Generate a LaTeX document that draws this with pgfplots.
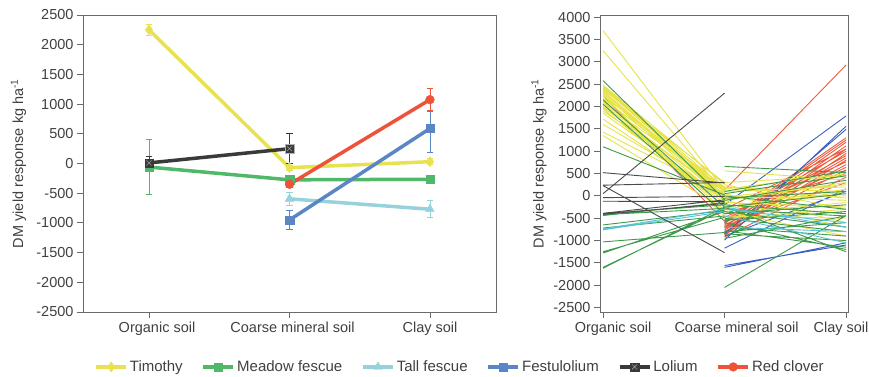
\documentclass[border=0pt]{standalone}
\usepackage{pgfplots}
\pgfplotsset{compat=1.18}
\usepackage{fontspec}
\setmainfont{Liberation Sans}
\setsansfont{Liberation Sans}

\definecolor{timothy}{HTML}{E8E150}
\definecolor{meadow}{HTML}{50B868}
\definecolor{tall}{HTML}{96D2DC}
\definecolor{festu}{HTML}{5B86C6}
\definecolor{lolium}{HTML}{3A3A3A}
\definecolor{redclover}{HTML}{EE5238}
\definecolor{ryel}{HTML}{E8E34A}
\definecolor{rgreen}{HTML}{3E9A4A}
\definecolor{rlblue}{HTML}{55C3D6}
\definecolor{rblue}{HTML}{3A5FC0}
\definecolor{rblack}{HTML}{4A4A4A}
\definecolor{rred}{HTML}{EE5A3E}
\definecolor{axisgray}{HTML}{6A6A6A}
\definecolor{textgray}{HTML}{404040}

\pgfdeclareplotmark{sqx}{%
  \pgfpathrectangle{\pgfqpoint{-\pgfplotmarksize}{-\pgfplotmarksize}}{\pgfqpoint{2\pgfplotmarksize}{2\pgfplotmarksize}}%
  \pgfusepathqfillstroke
  \pgfsetstrokecolor{gray!60}%
  \pgfpathmoveto{\pgfqpoint{-0.6\pgfplotmarksize}{-0.6\pgfplotmarksize}}%
  \pgfpathlineto{\pgfqpoint{0.6\pgfplotmarksize}{0.6\pgfplotmarksize}}%
  \pgfpathmoveto{\pgfqpoint{-0.6\pgfplotmarksize}{0.6\pgfplotmarksize}}%
  \pgfpathlineto{\pgfqpoint{0.6\pgfplotmarksize}{-0.6\pgfplotmarksize}}%
  \pgfusepathqstroke
}

\pgfplotsset{
  myaxis/.style={
    scale only axis, anchor=south west,
    axis line style={draw=axisgray, line width=0.9pt},
    tick align=outside, tick pos=left, major tick length=6pt,
    major tick style={draw=axisgray, line width=0.9pt},
    tick label style={font=\fontsize{14.5}{17}\selectfont, text=textgray},
    ylabel style={font=\fontsize{14.5}{17}\selectfont, text=textgray},
    /pgf/number format/assume math mode=true,
    /pgf/number format/1000 sep={},
    scaled y ticks=false,
  },
  ebar/.style={error bars/.cd, y dir=both, y explicit,
    error bar style={line width=0.8pt, #1},
    error mark options={rotate=90, mark size=3.2pt, line width=0.8pt, #1}},
}

\begin{document}
\begin{tikzpicture}
\useasboundingbox (0pt,0pt) rectangle (869pt,376pt);

% ---------------- left panel ----------------
\begin{axis}[myaxis, at={(83pt,64pt)}, width=413pt, height=297pt,
  xmin=-0.47, xmax=2.47, ymin=-2500, ymax=2500,
  ytick={-2500,-2000,...,2500}, xtick={0,1,2},
  xticklabels={\hspace*{16pt}Organic soil, \hspace*{6pt}Coarse mineral soil, Clay soil},
  ylabel={DM yield response kg ha\textsuperscript{-1}},
  ylabel style={at={(axis description cs:-0.156,0.5)}, anchor=center},
  legend columns=6,
  legend style={at={(axis description cs:0.913,-0.185)}, anchor=center, draw=none, fill=none,
    font=\fontsize{15}{17}\selectfont, text=textgray,
    /tikz/every even column/.append style={column sep=17pt}},
  legend image code/.code={\draw[#1, mark repeat=2, mark phase=2] plot coordinates {(0pt,0pt) (15pt,0pt) (30pt,0pt)};},
  every axis plot/.append style={line width=3.5pt, mark options={solid, line width=0.4pt}},
]
\addplot[timothy, mark=diamond*, mark size=5pt, ebar=timothy]
  coordinates {(0,2250) +- (0,85) (1,-70) +- (0,40) (2,30) +- (0,50)};
\addplot[meadow, mark=square*, mark size=4.2pt, ebar=meadow]
  coordinates {(0,-60) +- (0,460) (1,-275) +- (0,30) (2,-265) +- (0,30)};
\addplot[tall, mark=triangle*, mark size=5pt, ebar=tall]
  coordinates {(1,-595) +- (0,110) (2,-770) +- (0,145)};
\addplot[festu, mark=square*, mark size=4.2pt, ebar=festu]
  coordinates {(1,-950) +- (0,165) (2,590) += (0,290) -= (0,410)};
\addplot[lolium, mark=sqx, mark size=4.2pt, ebar=lolium]
  coordinates {(0,10) +- (0,110) (1,250) +- (0,250)};
\addplot[redclover, mark=*, mark size=4.4pt, ebar=redclover]
  coordinates {(1,-350) +- (0,50) (2,1075) +- (0,183)};
\legend{Timothy, Meadow fescue, Tall fescue, Festulolium, Lolium, Red clover}
\end{axis}

% ---------------- right panel ----------------
\begin{axis}[myaxis, at={(600pt,64pt)}, width=248pt, height=297pt,
  xmin=-0.025, xmax=2.016, ymin=-2600, ymax=4050,
  ytick={-2500,-2000,...,4000}, xtick={0,1,2},
  xticklabels={\hspace*{20pt}Organic soil, \hspace*{24pt}Coarse mineral soil, Clay soil\hspace*{10pt}},
  ylabel={DM yield response kg ha\textsuperscript{-1}},
  ylabel style={at={(axis description cs:-0.246,0.5)}, anchor=center},
  unbounded coords=jump,
  every axis plot/.append style={line width=0.9pt, no marks},
]
% red (Red clover)
\addplot[rred] coordinates {
 (0,2240) (1,-570) (0,nan)
 (1,130) (2,2930) (0,nan) (1,-580) (2,1300) (0,nan) (1,-620) (2,1250) (0,nan)
 (1,-700) (2,1200) (0,nan) (1,-760) (2,1120) (0,nan) (1,-820) (2,1050) (0,nan)
 (1,-540) (2,1000) (0,nan) (1,-880) (2,950) (0,nan) (1,-600) (2,900) (0,nan)
 (1,-720) (2,850) (0,nan) (1,-850) (2,800) (0,nan) (1,-480) (2,760) (0,nan)
 (1,-760) (2,700) (0,nan) (1,-650) (2,640) (0,nan) (1,-800) (2,580) (0,nan)
 (1,-400) (2,500) (0,nan) (1,-920) (2,420) (0,nan) (1,-300) (2,1050) (0,nan)
 (1,-680) (2,300)
};
% blue (Festulolium)
\addplot[rblue] coordinates {
 (1,-200) (2,1790) (0,nan) (1,-990) (2,1560) (0,nan) (1,-850) (2,1490) (0,nan)
 (1,-1170) (2,160) (0,nan) (1,-1560) (2,-1100) (0,nan) (1,-1600) (2,-1050) (0,nan)
 (1,-900) (2,100)
};
% yellow (Timothy)
\addplot[ryel] coordinates {
 (0,3700) (1,120) (0,nan) (0,3250) (1,60) (0,nan) (0,2480) (1,260) (0,nan)
 (0,2450) (1,180) (0,nan) (0,2420) (1,120) (0,nan) (0,2400) (1,80) (0,nan)
 (0,2380) (1,300) (0,nan) (0,2350) (1,30) (0,nan) (0,2320) (1,-20) (0,nan)
 (0,2280) (1,-80) (0,nan) (0,2230) (1,200) (0,nan) (0,2180) (1,100) (0,nan)
 (0,2120) (1,-120) (0,nan) (0,2080) (1,150) (0,nan) (0,2050) (1,0) (0,nan)
 (0,2000) (1,-180) (0,nan) (0,1980) (1,50) (0,nan) (0,1950) (1,-250) (0,nan)
 (0,1900) (1,100) (0,nan) (0,1850) (1,-60) (0,nan) (0,1720) (1,-100) (0,nan)
 (0,1600) (1,10) (0,nan) (0,1430) (1,40) (0,nan) (0,1350) (1,-300) (0,nan)
 (0,2150) (1,-350) (0,nan) (0,2250) (1,-450) (0,nan)
 (1,560) (2,350) (0,nan) (1,300) (2,450) (0,nan) (1,250) (2,-300) (0,nan)
 (1,200) (2,-50) (0,nan) (1,150) (2,500) (0,nan) (1,100) (2,200) (0,nan)
 (1,50) (2,-600) (0,nan) (1,0) (2,-100) (0,nan) (1,-50) (2,0) (0,nan)
 (1,-100) (2,300) (0,nan) (1,-150) (2,-250) (0,nan) (1,-200) (2,-400) (0,nan)
 (1,-250) (2,150) (0,nan) (1,-300) (2,100) (0,nan) (1,-350) (2,-900) (0,nan)
 (1,-400) (2,-150) (0,nan) (1,-450) (2,-500) (0,nan) (1,-500) (2,-300) (0,nan)
 (1,-100) (2,-700) (0,nan) (1,-20) (2,250) (0,nan) (1,180) (2,100)
};
% green (Meadow fescue)
\addplot[rgreen] coordinates {
 (0,2580) (1,-80) (0,nan) (0,2150) (1,-250) (0,nan) (0,2050) (1,-400) (0,nan)
 (0,1100) (1,20) (0,nan) (0,-400) (1,-200) (0,nan) (0,-420) (1,-280) (0,nan)
 (0,-440) (1,-150) (0,nan) (0,-650) (1,-330) (0,nan) (0,-720) (1,-450) (0,nan)
 (0,-1030) (1,-820) (0,nan) (0,-1250) (1,-480) (0,nan) (0,-1280) (1,-350) (0,nan)
 (0,-1600) (1,-300) (0,nan) (0,-1620) (1,-250) (0,nan)
 (1,660) (2,520) (0,nan) (1,-2050) (2,-440) (0,nan) (1,100) (2,560) (0,nan)
 (1,50) (2,450) (0,nan) (1,-100) (2,350) (0,nan) (1,-50) (2,100) (0,nan)
 (1,0) (2,-300) (0,nan) (1,-200) (2,-400) (0,nan) (1,-250) (2,50) (0,nan)
 (1,-300) (2,-450) (0,nan) (1,-350) (2,-700) (0,nan) (1,-400) (2,-200) (0,nan)
 (1,-500) (2,-800) (0,nan) (1,-550) (2,-350) (0,nan) (1,-600) (2,-1200) (0,nan)
 (1,-700) (2,-900) (0,nan) (1,-780) (2,-1150) (0,nan) (1,-800) (2,-600) (0,nan)
 (1,-850) (2,-1000) (0,nan) (1,-950) (2,-450) (0,nan) (1,-250) (2,-1250)
};
% light blue (Tall fescue)
\addplot[rlblue] coordinates {
 (0,-760) (1,-350) (0,nan) (0,-740) (1,-300) (0,nan)
 (1,-300) (2,-600) (0,nan) (1,-450) (2,-1050) (0,nan) (1,-700) (2,-800) (0,nan) (1,-250) (2,-700)
};
% black (Lolium)
\addplot[rblack] coordinates {
 (0,50) (1,2300) (0,nan) (0,520) (1,290) (0,nan) (0,240) (1,300) (0,nan)
 (0,230) (1,-1270) (0,nan) (0,-40) (1,-10) (0,nan) (0,-120) (1,-130) (0,nan)
 (0,-390) (1,-90) (0,nan) (0,-410) (1,-170)
};
\end{axis}
\end{tikzpicture}
\end{document}
